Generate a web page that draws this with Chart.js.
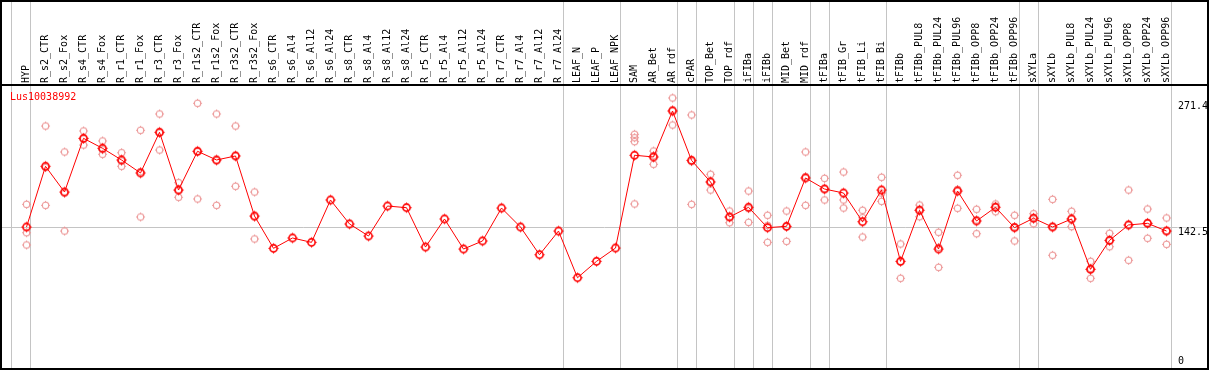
<!DOCTYPE html>
<html><head><meta charset="utf-8">
<script src="https://cdn.jsdelivr.net/npm/chart.js@4"></script>
<style>html,body{margin:0;padding:0;background:#fff;overflow:hidden}</style>
</head><body>
<canvas id="c" width="1209" height="370"></canvas>
<script>
const categories = ["HYP","R_s2_CTR","R_s2_Fox","R_s4_CTR","R_s4_Fox","R_r1_CTR","R_r1_Fox","R_r3_CTR","R_r3_Fox","R_r1s2_CTR","R_r1s2_Fox","R_r3s2_CTR","R_r3s2_Fox","R_s6_CTR","R_s6_Al4","R_s6_Al12","R_s6_Al24","R_s8_CTR","R_s8_Al4","R_s8_Al12","R_s8_Al24","R_r5_CTR","R_r5_Al4","R_r5_Al12","R_r5_Al24","R_r7_CTR","R_r7_Al4","R_r7_Al12","R_r7_Al24","LEAF_N","LEAF_P","LEAF_NPK","SAM","AR_Bet","AR_rdf","cPAR","TOP_Bet","TOP_rdf","iFIBa","iFIBb","MID_Bet","MID_rdf","tFIBa","tFIB_Gr","tFIB_Li","tFIB_Bi","tFIBb","tFIBb_PUL8","tFIBb_PUL24","tFIBb_PUL96","tFIBb_OPP8","tFIBb_OPP24","tFIBb_OPP96","sXYLa","sXYLb","sXYLb_PUL8","sXYLb_PUL24","sXYLb_PUL96","sXYLb_OPP8","sXYLb_OPP24","sXYLb_OPP96"];

const meanValues = [143.2,210.3,181.9,241.2,230.2,217.3,202.9,247.9,184.1,226.9,217.3,221.7,155.4,119.7,131.1,126.3,173.1,146.6,133.3,166.4,164.6,121.1,152.1,118.9,127.8,164.2,143.2,112.6,138.8,87.2,105.3,120.0,222.5,220.6,271.4,216.9,193.0,154.3,165.0,142.5,144.0,197.4,185.2,180.8,149.1,184.1,105.3,161.7,118.9,183.0,149.9,165.0,142.5,152.9,143.2,152.1,96.5,128.5,145.5,147.3,138.8];

const replicateValues = [
  [168.3,136.9,123.4],[254.8,167.2,208.9],[226.1,138.8,180.8],[249.3,233.8,240.5],
  [238.3,223.6,228.6],[225.3,210.3,216.2],[250.1,154.3,204.3],[268.1,228.3,247.1],
  [192.2,176.1,184.1],[279.9,174.2,226.4],[268.1,167.2,216.5],[254.8,188.2,222.0],
  [181.9,130.0,154.3],
  [],[],[],[],[],[],[],[],[],[],[],[],[],[],[],[],[],[],[],
  [245.7,241.9,237.5,168.7],[227.2,212.5,222.0],[285.8,255.9,272.5],[267.0,168.3,215.4],
  [201.5,184.1,193.3],[160.9,148.0,154.0],[183.0,148.4,163.5],[156.2,126.3,145.0],
  [160.9,127.4,143.6],[226.1,167.2,198.8],[197.0,173.1,185.6],[204.0,173.1,164.2],
  [161.7,132.2,153.5],[198.2,180.8,171.6],[124.5,86.6,104.9],[167.5,154.6,162.8],
  [137.4,98.7,120.7],[200.4,163.9,184.8],[162.8,135.8,151.0],[168.7,160.1,166.1],
  [156.2,127.8,143.6],[157.9,146.9,153.6],[173.8,112.0,143.9],[160.6,143.6,152.1],
  [105.3,86.6,97.5],[136.3,121.5,127.8],[184.1,106.5,145.8],[163.1,130.8,148.0],
  [153.2,124.1,139.2]
];

const lowerTickValues = [0, 142.5];
const upperTickValues = [271.4];
const groupEnds = [-1,0,28,31,34,35,37,38,39,41,42,45,52,53,60];
const geneName = "Lus10038992";

const X_MIN = -1.2895, X_MAX = 62.13, Y_MIN = -12.5, Y_MAX = 299.0;
const MONO = "'DejaVu Sans Mono', monospace";

function makeMarker(color, r, lw, tick) {
  const s = Math.ceil((r + tick + 1) * 2);
  const cv = document.createElement('canvas');
  cv.width = s; cv.height = s;
  const g = cv.getContext('2d');
  const c = s / 2;
  g.strokeStyle = color; g.lineWidth = lw;
  g.beginPath(); g.arc(c, c, r, 0, Math.PI * 2); g.stroke();
  g.lineWidth = 1;
  g.beginPath();
  g.moveTo(c, c - r); g.lineTo(c, c - r - tick);
  g.moveTo(c, c + r); g.lineTo(c, c + r + tick);
  g.moveTo(c - r, c); g.lineTo(c - r - tick, c);
  g.moveTo(c + r, c); g.lineTo(c + r + tick, c);
  g.stroke();
  return cv;
}
const meanMarker = makeMarker('#ff0000', 3.6, 1.6, 1.5);
const repMarker = makeMarker('#ec9494', 3.2, 1.1, 1.2);

const meanData = meanValues.map((v, i) => ({x: i, y: v}));
const repData = [];
replicateValues.forEach((arr, i) => arr.forEach(v => repData.push({x: i, y: v})));

const overlay = {
  id: 'overlay',
  beforeDatasetsDraw(chart) {
    const {ctx, chartArea} = chart;
    const xs = chart.scales.x;
    ctx.save();
    ctx.strokeStyle = '#c4c4c4';
    ctx.lineWidth = 1;
    groupEnds.forEach(i => {
      const px = Math.round(xs.getPixelForValue(i + 0.21)) + 0.5;
      ctx.beginPath(); ctx.moveTo(px, 0); ctx.lineTo(px, chartArea.bottom); ctx.stroke();
    });
    ctx.restore();
  },
  afterDraw(chart) {
    const {ctx} = chart;
    ctx.save();
    ctx.strokeStyle = '#000'; ctx.lineWidth = 2;
    ctx.strokeRect(1, 1, 1207, 368);
    ctx.beginPath(); ctx.moveTo(0, 85); ctx.lineTo(1209, 85); ctx.stroke();
    ctx.fillStyle = '#ff0000';
    ctx.font = "10px " + MONO;
    ctx.textBaseline = 'middle';
    ctx.textAlign = 'left';
    ctx.fillText(geneName, 10, 97);
    ctx.restore();
  }
};

function flatY(s) { s.width = 0; s.paddingTop = 0; s.paddingBottom = 0; s.paddingLeft = 0; s.paddingRight = 0; }

const yCommon = {
  type: 'linear', position: 'right', min: Y_MIN, max: Y_MAX,
  border: {display: false},
  afterFit: flatY
};
const yTickFont = {family: MONO, size: 10};

new Chart(document.getElementById('c'), {
  type: 'line',
  data: {
    datasets: [
      {
        data: meanData, borderColor: '#ff0000', borderWidth: 1, tension: 0,
        pointStyle: meanMarker, pointRadius: 4, pointHoverRadius: 4, fill: false
      },
      {
        data: repData, showLine: false, pointStyle: repMarker, pointRadius: 3
      }
    ]
  },
  options: {
    responsive: false, animation: false, events: [],
    layout: {autoPadding: false, padding: {left: 2, right: 2, top: 0, bottom: 2}},
    plugins: {legend: {display: false}, tooltip: {enabled: false}},
    scales: {
      x: {
        type: 'linear', position: 'top', min: X_MIN, max: X_MAX,
        afterBuildTicks(s) { s.ticks = categories.map((c, i) => ({value: i})); },
        ticks: {
          autoSkip: false, maxRotation: 90, minRotation: 90, padding: 3, labelOffset: 12,
          color: '#000', font: {family: MONO, size: 10},
          callback: (v) => categories[v]
        },
        grid: {display: false, drawTicks: false, tickLength: 0}, border: {display: false},
        afterFit(s) { s.height = 86; s.paddingLeft = 0; s.paddingRight = 0; s.paddingTop = 0; s.paddingBottom = 0; }
      },
      y: Object.assign({}, yCommon, {
        afterBuildTicks(s) { s.ticks = lowerTickValues.map(v => ({value: v})); },
        ticks: {mirror: true, padding: 1, align: 'start', crossAlign: 'far', color: '#000', font: yTickFont,
                showLabelBackdrop: true, backdropColor: '#ffffff', backdropPadding: {top: 0, bottom: 0, left: 1, right: 0},
                callback: v => String(v)},
        grid: {drawTicks: false, tickLength: 0, lineWidth: 1, color: (c) => (c.tick && c.tick.value === 142.5) ? '#c4c4c4' : 'rgba(0,0,0,0)'}
      }),
      y2: Object.assign({}, yCommon, {
        afterBuildTicks(s) { s.ticks = upperTickValues.map(v => ({value: v})); },
        ticks: {mirror: true, padding: 1, align: 'end', crossAlign: 'far', color: '#000', font: yTickFont, callback: v => String(v)},
        grid: {display: false, drawTicks: false, tickLength: 0}
      })
    }
  },
  plugins: [overlay]
});
</script>
</body></html>
